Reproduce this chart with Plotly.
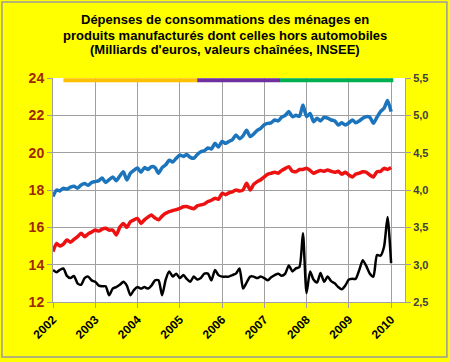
import pandas as pd
import plotly.graph_objects as go

# Monthly data, Jan 2002 .. Jan 2010
months = pd.date_range("2002-01-01", periods=97, freq="MS")

manufactures = [
    17.65, 18.0, 17.95, 18.1, 18.05, 18.15, 18.2, 18.1, 18.27, 18.35, 18.25, 18.4,
    18.45, 18.5, 18.64, 18.4, 18.55, 18.7, 18.5, 18.75, 18.98, 18.54, 18.9, 19.05,
    19.18, 18.95, 19.2, 19.1, 19.25, 19.2, 18.9, 19.2, 19.35, 19.6, 19.5, 19.7,
    19.87, 19.8, 19.9, 19.75, 19.7, 19.9, 20.05, 20.1, 20.25, 20.2, 20.5, 20.3,
    20.6, 20.5, 20.6, 20.7, 20.95, 20.75, 20.9, 21.2, 20.86, 21.0, 21.2, 21.3,
    21.5, 21.57, 21.6, 21.75, 21.7, 21.9, 22.0, 22.2, 21.93, 22.0, 21.95, 22.55,
    21.93, 22.1, 21.66, 21.84, 21.7, 21.9, 21.85, 21.75, 21.7, 21.48, 21.6, 21.48,
    21.6, 21.75, 21.6, 21.7, 21.85, 21.93, 21.9, 21.57, 21.9, 22.2, 22.38, 22.8,
    22.2,
]

hors_automobiles = [
    14.7, 15.14, 15.0, 15.1, 15.32, 15.2, 15.35, 15.5, 15.68, 15.5, 15.65, 15.75,
    15.86, 15.8, 15.9, 15.95, 15.85, 15.86, 15.59, 16.0, 16.21, 16.0, 16.3, 16.4,
    16.48, 16.21, 16.4, 16.55, 16.66, 16.5, 16.4, 16.6, 16.75, 16.84, 16.9, 16.95,
    17.02, 17.1, 17.11, 17.05, 17.0, 17.15, 17.2, 17.25, 17.38, 17.45, 17.56, 17.5,
    17.82, 17.75, 17.85, 17.9, 18.0, 17.95, 18.0, 18.36, 18.0, 18.3, 18.45, 18.55,
    18.7, 18.85, 18.9, 18.95, 18.9, 19.05, 19.15, 19.25, 19.0, 18.98, 19.1, 19.1,
    19.16, 19.05, 18.9, 18.98, 19.05, 19.0, 19.07, 19.0, 18.95, 19.0, 18.85, 18.95,
    18.8, 18.7, 18.85, 18.9, 18.98, 18.95, 18.8, 18.7, 18.98, 19.0, 19.16, 19.1,
    19.2,
]

automobiles = [
    2.93, 2.90, 2.93, 2.95, 2.85, 2.82, 2.85, 2.75, 2.73, 2.82, 2.84, 2.79,
    2.77, 2.72, 2.71, 2.71, 2.59, 2.68, 2.70, 2.73, 2.77, 2.72, 2.59, 2.66,
    2.70, 2.68, 2.70, 2.68, 2.72, 2.79, 2.79, 2.59, 2.80, 2.91, 2.84, 2.88,
    2.82, 2.86, 2.81, 2.77, 2.84, 2.80, 2.82, 2.88, 2.88, 2.79, 2.93, 2.86,
    2.84, 2.84, 2.84, 2.86, 2.88, 2.95, 2.68, 2.76, 2.84, 2.84, 2.82, 2.84,
    2.82, 2.79, 2.83, 2.86, 2.88, 2.85, 2.88, 2.99, 2.91, 2.95, 2.97, 3.42,
    2.62, 2.91, 2.80, 2.76, 2.89, 2.77, 2.84, 2.78, 2.75, 2.70, 2.67, 2.72,
    2.80, 2.81, 2.81, 2.93, 3.06, 2.98, 2.88, 2.84, 3.13, 3.12, 3.24, 3.64,
    3.02,
]

# Government periods (top coloured band)
period_starts = ["2002-04-01", "2005-05-31", "2007-05-17"]
period_ends = ["2005-05-31", "2007-05-17", "2010-01-20"]
period_colors = ["#FFC000", "#7030A0", "#00B050"]
band_level = 23.88

title_lines = [
    "Dépenses de consommations des ménages en",
    "produits manufacturés dont celles hors automobiles",
    "(Milliards d'euros, valeurs chaînées, INSEE)",
]
title_line_y = [1.259, 1.188, 1.129]

fig = go.Figure()

for s, e, c in zip(period_starts, period_ends, period_colors):
    fig.add_trace(go.Scatter(x=[s, e], y=[band_level, band_level], mode="lines",
                             line=dict(color=c, width=4), hoverinfo="skip",
                             showlegend=False, cliponaxis=False))

fig.add_trace(go.Scatter(x=months, y=manufactures, mode="lines",
                         line=dict(color="#1C75BC", width=3.5, shape="spline", smoothing=0.6),
                         showlegend=False))
fig.add_trace(go.Scatter(x=months, y=hors_automobiles, mode="lines",
                         line=dict(color="#EE1111", width=3.5, shape="spline", smoothing=0.6),
                         showlegend=False))
fig.add_trace(go.Scatter(x=months, y=automobiles, mode="lines", yaxis="y2",
                         line=dict(color="#000000", width=2.5, shape="spline", smoothing=0.6),
                         showlegend=False))

font_family = "Arial, Liberation Sans, sans-serif"

annotations = [
    dict(text=t, x=(225 - 53) / 352, y=yy, xref="paper", yref="paper",
         xanchor="center", yanchor="middle", showarrow=False,
         font=dict(family=font_family, size=13, color="#000000", weight="bold"))
    for t, yy in zip(title_lines, title_line_y)
]

fig.update_layout(
    width=450, height=362,
    margin=dict(l=53, r=45, t=78, b=60),
    paper_bgcolor="#FFFF00",
    plot_bgcolor="#FFFFFF",
    separators=", ",
    annotations=annotations,
    xaxis=dict(type="date", range=["2002-01-01", "2010-05-01"],
               tick0="2002-01-01", dtick="M12", tickformat="%Y", tickangle=-45,
               showgrid=True, gridcolor="#A0A0A0", gridwidth=1,
               showline=True, linecolor="#A0A0A0", linewidth=1,
               ticks="outside", ticklen=5, tickcolor="#A0A0A0",
               tickfont=dict(family=font_family, size=12, color="#000000", weight="bold"),
               zeroline=False),
    yaxis=dict(range=[12, 24], dtick=2, showgrid=True, gridcolor="#A0A0A0", gridwidth=1,
               showline=True, linecolor="#A0A0A0", linewidth=1, mirror=False,
               ticks="outside", ticklen=5, tickcolor="#A0A0A0",
               tickfont=dict(family=font_family, size=14, color="#A02800", weight="bold"),
               zeroline=False),
    yaxis2=dict(range=[2.5, 5.5], dtick=0.5, tickformat=".1f", overlaying="y", side="right",
                showgrid=False, showline=True, linecolor="#A0A0A0", linewidth=1,
                ticks="outside", ticklen=5, tickcolor="#A0A0A0",
                tickfont=dict(family=font_family, size=11, color="#404040", weight="bold"),
                zeroline=False),
    shapes=[dict(type="rect", xref="paper", yref="paper",
                 x0=-0.145, x1=1.119, y0=-0.2455, y1=1.339,
                 line=dict(color="#9A9A9A", width=1.5), fillcolor="rgba(0,0,0,0)",
                 layer="above")],
)

fig.write_html("out.html", config={"displayModeBar": False},
               post_script="document.body.style.margin='0';document.body.style.padding='0';")
